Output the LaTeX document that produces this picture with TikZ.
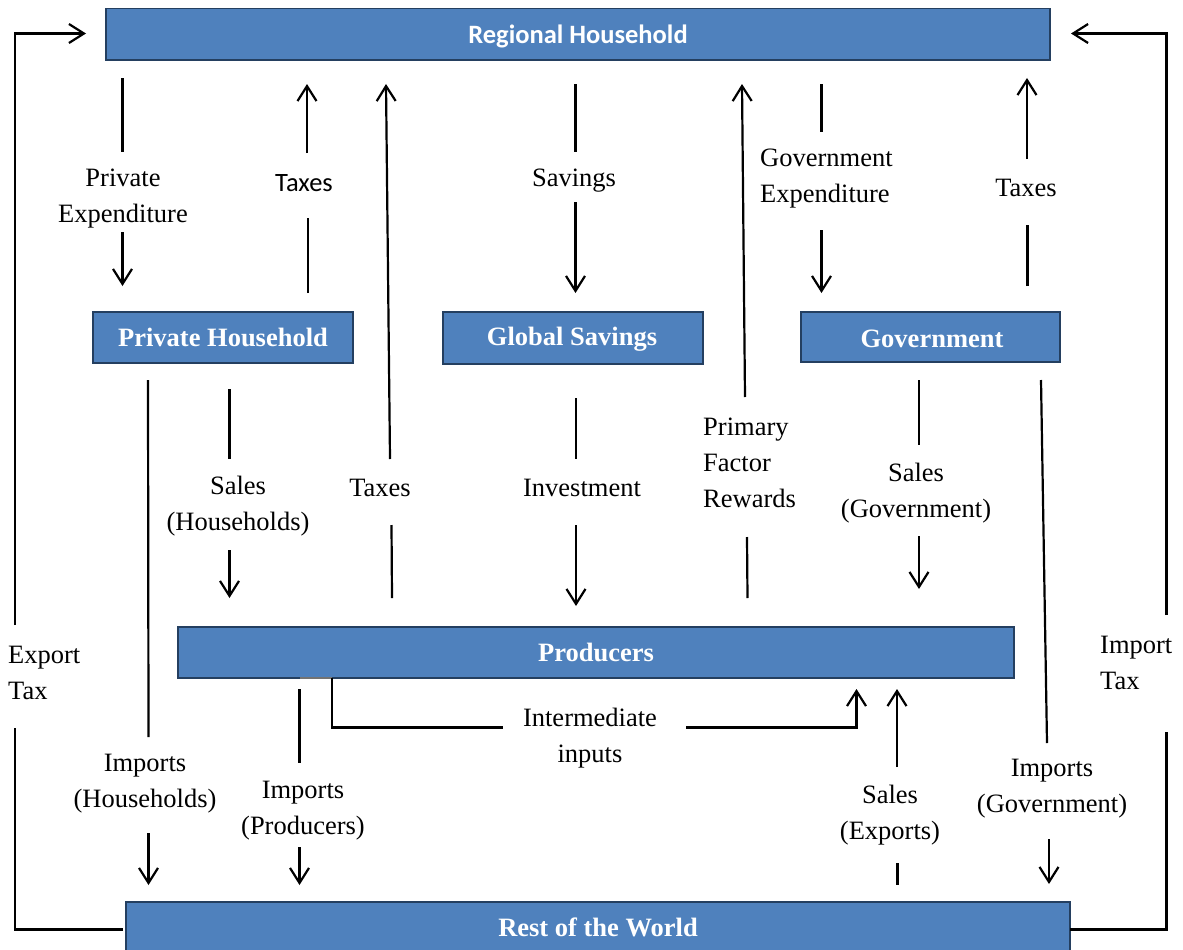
\documentclass[tikz,border=0pt]{standalone}
\usepackage{fontspec}
\setmainfont{Liberation Serif}
\newfontfamily\carl{Carlito}
\usetikzlibrary{arrows.meta}
\definecolor{boxfill}{HTML}{4F81BD}
\definecolor{boxedge}{HTML}{243F60}
\tikzset{
  box/.style={rectangle, fill=boxfill, draw=boxedge, line width=1.4pt, inner sep=0pt,
    text=white, font=\fontsize{26.5}{32}\selectfont\bfseries},
  boxtext/.style={inner sep=0pt, text=white, font=\fontsize{26.5}{32}\selectfont\bfseries},
  lbl/.style={inner sep=0pt, align=center, yshift=-3pt, font=\fontsize{26.5}{36}\selectfont},
  lbll/.style={lbl, align=left, anchor=west},
  flow/.style={line width=2.2pt, draw=black},
  arr/.style={flow, -{Straight Barb[length=15pt,width=19pt,line width=2.2pt]}}
}
\begin{document}
\begin{tikzpicture}[x=1pt,y=-1pt]
\useasboundingbox (0,0) rectangle (1183,950);
% boxes
\node[box, minimum width=944pt, minimum height=51.5pt] (rh) at (578,34.25) {};
\node[boxtext, font=\carl\fontsize{26.5}{32}\selectfont\bfseries] (rht) at (578,36) {Regional Household};
\node[box, minimum width=260pt, minimum height=51pt] (ph) at (223,337.5) {Private Household};
\node[box, minimum width=260pt, minimum height=52pt] (gs) at (573,338) {};
\node[boxtext] (gst) at (572,339.5) {Global Savings};
\node[box, minimum width=259pt, minimum height=50pt] (gov) at (930.5,337) {};
\node[boxtext] (govt) at (932,338.5) {Government};
\node[box, minimum width=836pt, minimum height=51pt] (prod) at (596,652.5) {Producers};
\node[box, minimum width=944pt, minimum height=50pt] (row) at (598,927) {Rest of the World};

% labels
\node[lbl] (lpe) at (123,196) {Private\\Expenditure};
\node[lbl, font=\carl\fontsize{26.5}{36}\selectfont] (ltx1) at (304,180) {Taxes};
\node[lbl] (lsav) at (574,178) {Savings};
\node[lbll] (lge) at (760,176) {Government\\Expenditure};
\node[lbl] (ltx3) at (1026,185) {Taxes};
\node[lbl] (lsh) at (238,503) {Sales\\(Households)};
\node[lbl] (ltx2) at (380,485) {Taxes};
\node[lbl] (linv) at (582,485) {Investment};
\node[lbll] (lpf) at (703,460) {Primary\\Factor\\Rewards};
\node[lbl] (lsg) at (916,490) {Sales\\(Government)};
\node[lbll] (let) at (8,670) {Export\\Tax};
\node[lbll] (lit) at (1100,660) {Import\\Tax};
\node[lbl] (lii) at (590,735) {Intermediate\\inputs};
\node[lbl] (lih) at (145,781) {Imports\\(Households)};
\node[lbl] (lip) at (303,808) {Imports\\(Producers)};
\node[lbl] (lse) at (890,812) {Sales\\(Exports)};
\node[lbl] (lig) at (1052,786) {Imports\\(Government)};

% Private expenditure
\draw[flow] (122.5,78) -- (122.5,152);
\draw[arr] (122.5,232) -- (122.5,286);
% Taxes (private household)
\draw[flow] (308,293) -- (308,218);
\draw[arr] (307,153) -- (307,84);
% Taxes (producers)
\draw[flow] (392,598) -- (391.5,525);
\draw[arr] (390,459) -- (386,84);
% Savings
\draw[flow] (575.5,84) -- (575.5,152);
\draw[arr] (575.5,202) -- (575.5,293);
% Primary factor rewards
\draw[flow] (747.5,598) -- (747,537);
\draw[arr] (745,397) -- (742,84);
% Government expenditure
\draw[flow] (821.5,84) -- (821.5,132);
\draw[arr] (821.5,230) -- (821.5,293);
% Taxes (government)
\draw[flow] (1027.5,286) -- (1027.5,225);
\draw[arr] (1027,159) -- (1027,78);
% Sales households
\draw[flow] (229.5,389) -- (229.5,459);
\draw[arr] (229.5,550) -- (229.5,598);
% Imports households
\draw[flow] (148,380) -- (148.5,737);
\draw[arr] (148.5,833) -- (148.5,885);
% Investment
\draw[flow] (576,398) -- (576,459);
\draw[arr] (576,525) -- (576,606);
% Sales government
\draw[flow] (919,380) -- (919,445);
\draw[arr] (919,536) -- (919,589);
% Imports government
\draw[flow] (1041,380) -- (1047,743);
\draw[arr] (1049,839) -- (1049,884);
% Imports producers
\draw[flow] (299.5,689) -- (299.5,763);
\draw[arr] (299.5,847) -- (299.5,885);
% Intermediate inputs
\draw[flow, draw=black!55] (300,678) -- (332,678);
\draw[flow] (332,678) -- (332,727.5) -- (503,727.5);
\draw[arr] (686,727.5) -- (856.5,727.5) -- (856.5,689);
% Sales exports
\draw[arr] (897,767) -- (897,689);
\draw[flow] (897.5,863) -- (897.5,885);
% Export tax loop
\draw[flow] (123,929.5) -- (15,929.5) -- (15,728);
\draw[arr] (15,625) -- (15,33.5) -- (86,33.5);
% Import tax loop
\draw[flow] (1070,929.5) -- (1166.5,929.5) -- (1166.5,732);
\draw[arr] (1166.5,615) -- (1166.5,33.5) -- (1071,33.5);
\end{tikzpicture}
\end{document}
